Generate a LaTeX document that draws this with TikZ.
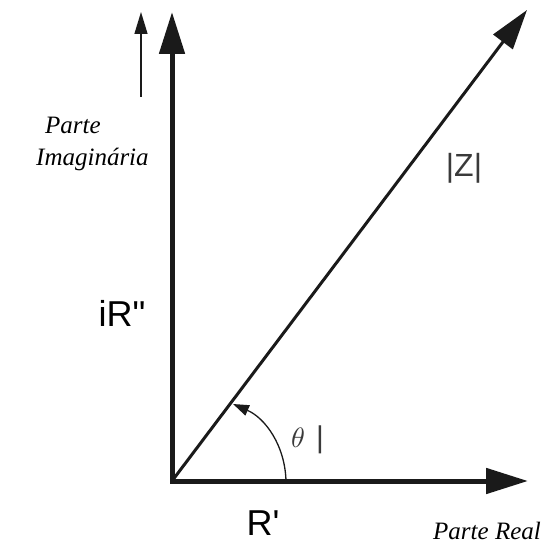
\documentclass[tikz,border=0pt]{standalone}
\usepackage{graphicx}
\usepackage{fontspec}
\newfontfamily\arialfont{Liberation Sans}
\newfontfamily\timesfont{Liberation Serif}
\usetikzlibrary{arrows.meta}
\definecolor{ink}{HTML}{1A1A1A}
\definecolor{grayink}{HTML}{3A3A3A}
\tikzset{
  axis/.style={draw=ink, line width=5pt, -{Triangle[length=42pt,width=25pt]}},
  vecz/.style={draw=ink, line width=3pt, -{Triangle[length=40pt,width=24pt]}},
  thinarrow/.style={draw=ink, line width=1.4pt, -{Triangle[length=22pt,width=13pt]}},
  anglearc/.style={draw=ink, line width=1.3pt, -{Triangle[length=16pt,width=11pt]}},
  serifit/.style={font=\timesfont\fontsize{25}{32}\selectfont\itshape, text=black, inner sep=0pt},
  sanslbl/.style={font=\arialfont\fontsize{36}{40}\selectfont, text=black, inner sep=0pt},
}
\begin{document}
\begin{tikzpicture}[x=1pt,y=-1pt]
\useasboundingbox (0,0) rectangle (549,548);
\coordinate (O) at (172,481);
\coordinate (Ytip) at (172,12);
\coordinate (Xtip) at (528,481);
\coordinate (Ztip) at (527,10);
\coordinate (Sbase) at (141,97);
\coordinate (Stip) at (141,12);
\coordinate (Astart) at (286,481);
\coordinate (Aend) at (233,404);
\draw[vecz] (O) -- (Ztip);
\draw[axis] (O) -- (Ytip);
\draw[axis] (O) -- (Xtip);
\draw[line width=5pt, draw=ink, line cap=rect] (O) -- ++(0,-2);
\draw[thinarrow] (Sbase) -- (Stip);
\draw[anglearc] (Astart) .. controls (285,445) and (265,418) .. (Aend);
\node[serifit, align=left, anchor=north west] (pim) at (36,117) {\hspace*{9pt}Parte\\Imaginária};
\node[serifit] (preal) at (487,531) {Parte Real};
\node[font=\arialfont\fontsize{32}{36}\selectfont, text=grayink, inner sep=0pt] (modz) at (464,168) {|Z|};
\node[sanslbl] (ir) at (122,313) {iR"};
\node[sanslbl] (rp) at (263,523) {R'};
\node[font=\fontsize{10}{12}\selectfont, text=grayink, inner sep=0pt, anchor=base west] (th) at (291,447) {\scalebox{2.8}{$\theta$}};
\node[font=\arialfont\fontsize{30}{34}\selectfont, text=grayink, inner sep=0pt, anchor=base west] (thbar) at (316,447) {|};
\end{tikzpicture}
\end{document}
